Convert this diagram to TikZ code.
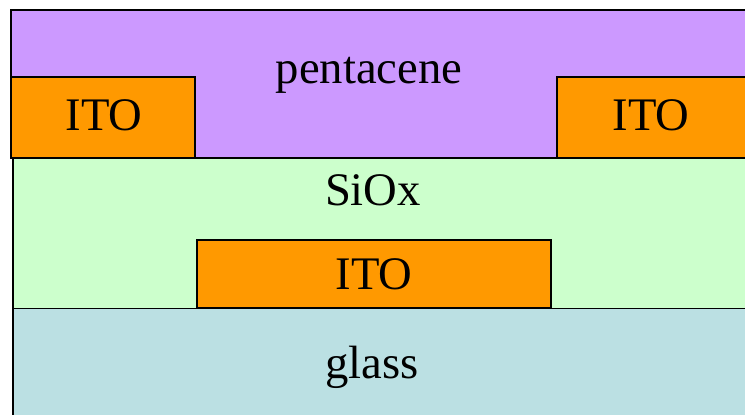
\documentclass[tikz,border=0pt]{standalone}
\usepackage{fontspec}
\setmainfont{Liberation Serif}
\definecolor{penta}{HTML}{CC99FF}
\definecolor{ito}{HTML}{FF9900}
\definecolor{siox}{HTML}{CCFFCC}
\definecolor{glass}{HTML}{BBE0E3}
\tikzset{
  layer/.style={draw=black, line width=1.5pt},
  lbl/.style={anchor=base, inner sep=0pt, font=\fontsize{35}{42}\selectfont}
}
\begin{document}
\begin{tikzpicture}[x=0.75pt, y=-0.75pt]
\useasboundingbox (0,0) rectangle (745,414);
\fill[white] (0,0) rectangle (745,414);
\clip (0,0) rectangle (745,414);
% glass
\fill[glass] (13,308) rectangle (760,430);
\draw[layer] (13,430) -- (13,308) -- (760,308);
% SiOx
\fill[siox] (13,158) rectangle (760,308);
\draw[layer] (13,308) -- (13,158);
% pentacene
\fill[penta] (11,9.5) rectangle (760,158);
\draw[layer] (760,9.5) -- (11,9.5) -- (11,158) -- (760,158);
% ITO electrodes
\draw[layer, fill=ito] (11,77) rectangle (195,158);
\draw[layer, fill=ito] (557,77) rectangle (760,158);
\draw[layer, fill=ito] (197,240) rectangle (551,308);
% labels
\node[lbl] (pent) at (369,83) {pentacene};
\node[lbl] (itol) at (104,130) {ITO};
\node[lbl] (itor) at (651,130) {ITO};
\node[lbl] (sio) at (373,205) {SiOx};
\node[lbl] (itom) at (374,289) {ITO};
\node[lbl] (gls) at (372,378) {glass};
\end{tikzpicture}
\end{document}
